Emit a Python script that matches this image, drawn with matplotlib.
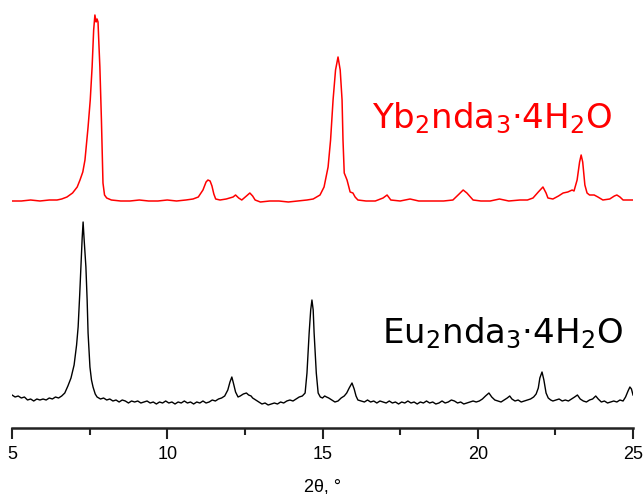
# plot.py
"""
Powder XRD patterns of Yb2nda3·4H2O and Eu2nda3·4H2O
"""

import matplotlib
matplotlib.use('Agg')
import matplotlib.pyplot as plt
from matplotlib.ticker import MultipleLocator

# 2θ (deg) and relative intensity
yb_2theta = [5.0, 5.3, 5.6, 5.9, 6.2, 6.45, 6.6, 6.77, 6.95, 7.1, 7.19, 7.28, 7.35, 7.45, 7.52,
             7.58, 7.63, 7.67, 7.71, 7.74, 7.77, 7.8, 7.83, 7.88, 7.93, 7.98, 8.05, 8.2, 8.5,
             8.8, 9.1, 9.4, 9.7, 10.0, 10.3, 10.6, 10.83, 11.0, 11.15, 11.25, 11.31, 11.38,
             11.44, 11.5, 11.56, 11.7, 11.9, 12.12, 12.2, 12.3, 12.4, 12.55, 12.66, 12.75,
             12.83, 13.0, 13.3, 13.6, 13.9, 14.2, 14.5, 14.7, 14.92, 15.05, 15.18, 15.26,
             15.34, 15.42, 15.5, 15.57, 15.63, 15.66, 15.7, 15.79, 15.89, 15.98, 16.05,
             16.14, 16.4, 16.7, 16.95, 17.08, 17.2, 17.5, 17.82, 18.1, 18.5, 18.9, 19.2,
             19.4, 19.53, 19.65, 19.85, 20.1, 20.4, 20.7, 21.0, 21.36, 21.6, 21.78, 21.95,
             22.1, 22.2, 22.26, 22.42, 22.6, 22.75, 22.9, 23.04, 23.1, 23.2, 23.28, 23.33,
             23.38, 23.45, 23.52, 23.6, 23.75, 23.87, 24.03, 24.25, 24.4, 24.48, 24.58,
             24.68, 24.85, 25.0]
yb_int = [0, 0, 1, 0, 1, 1, 2, 4, 8, 14, 21, 29, 41, 74, 101,
          134, 171, 186, 179, 182, 179, 156, 134, 81, 18, 6, 3, 1, 0,
          0, 1, 0, 0, 1, 0, 1, 2, 4, 11, 19, 21, 20,
          15, 7, 2, 1, 2, 4, 6, 3, 1, 5, 8, 5,
          1, -1, 0, 0, -1, 0, 1, 2, 6, 14, 34, 61,
          101, 131, 144, 131, 101, 61, 28, 21, 9, 8, 4,
          1, 0, 0, 3, 6, 1, 0, 2, 0, 0, 0, 1,
          7, 11, 8, 1, 0, 0, 2, 0, 1, 1, 3, 9,
          14, 8, 3, 2, 5, 8, 9, 11, 10, 21, 39, 46,
          39, 16, 8, 6, 6, 4, 1, 2, 5, 6, 4,
          1, 1, 1]

eu_2theta = [5.0, 5.1, 5.2, 5.3, 5.4, 5.5, 5.6, 5.7, 5.8, 5.9, 6.0, 6.1, 6.2, 6.3, 6.4, 6.5,
             6.6, 6.7, 6.8, 6.9, 7.0, 7.08, 7.13, 7.18, 7.22, 7.26, 7.29, 7.32, 7.38, 7.42,
             7.45, 7.51, 7.56, 7.61, 7.68, 7.74, 7.85, 7.95, 8.05, 8.15, 8.25, 8.35, 8.45,
             8.55, 8.65, 8.75, 8.85, 8.95, 9.05, 9.15, 9.25, 9.35, 9.45, 9.55, 9.65, 9.75,
             9.85, 9.95, 10.05, 10.15, 10.25, 10.35, 10.45, 10.55, 10.65, 10.75, 10.85,
             10.95, 11.05, 11.15, 11.25, 11.35, 11.45, 11.55, 11.65, 11.75, 11.85, 11.95,
             12.02, 12.08, 12.13, 12.2, 12.28, 12.35, 12.45, 12.55, 12.62, 12.7, 12.75,
             12.85, 12.95, 13.05, 13.15, 13.25, 13.35, 13.45, 13.55, 13.65, 13.75, 13.85,
             13.95, 14.05, 14.15, 14.25, 14.35, 14.44, 14.5, 14.57, 14.62, 14.66, 14.7,
             14.73, 14.8, 14.86, 14.93, 15.0, 15.07, 15.13, 15.2, 15.3, 15.4, 15.5, 15.6,
             15.7, 15.78, 15.86, 15.95, 16.02, 16.08, 16.14, 16.25, 16.35, 16.45, 16.55,
             16.65, 16.75, 16.85, 16.95, 17.05, 17.15, 17.25, 17.35, 17.45, 17.55, 17.65,
             17.75, 17.85, 17.95, 18.05, 18.15, 18.25, 18.35, 18.45, 18.55, 18.65, 18.75,
             18.85, 18.95, 19.05, 19.15, 19.25, 19.35, 19.45, 19.55, 19.65, 19.75, 19.85,
             19.95, 20.05, 20.15, 20.25, 20.36, 20.45, 20.55, 20.65, 20.75, 20.85, 20.95,
             21.03, 21.1, 21.2, 21.3, 21.4, 21.5, 21.6, 21.7, 21.8, 21.88, 21.95, 22.0,
             22.07, 22.13, 22.2, 22.27, 22.35, 22.42, 22.52, 22.62, 22.72, 22.82, 22.92,
             23.02, 23.12, 23.21, 23.3, 23.4, 23.5, 23.6, 23.7, 23.8, 23.88, 23.98, 24.08,
             24.18, 24.28, 24.38, 24.48, 24.58, 24.68, 24.76, 24.84, 24.9, 24.95, 25.0]
eu_int = [5, 3, 4, 2, 3, 0, 1, -1, 1, 0, 1, 0, 2, 1, 3, 2,
          4, 7, 14, 22, 35, 55, 73, 105, 133, 162, 178, 162, 133, 100,
          67, 33, 20, 13, 6, 3, 1, 2, 0, 1, -1, 0, -2,
          0, -1, -3, -1, -2, -1, -3, -2, -1, -3, -2, -4, -2,
          -3, -1, -3, -2, -4, -2, -3, -1, -3, -2, -4,
          -2, -3, -1, -3, -2, 0, -1, 1, 2, 4, 10,
          18, 23, 17, 8, 3, 4, 6, 7, 5, 4, 2,
          0, -2, -4, -3, -5, -4, -3, -4, -2, -3, -1,
          0, -1, 1, 3, 4, 7, 27, 67, 90, 100, 90,
          67, 27, 7, 3, 2, 4, 3, 2, 0, -2, -1, 2,
          4, 7, 12, 17, 11, 4, 0, -1, -2, 0, -2,
          -1, -3, -1, -2, -3, -1, -3, -2, -4, -2, -3,
          -1, -3, -2, -4, -2, -3, -1, -3, -2, -4, -3,
          -1, -3, -2, 0, -1, -3, -2, -4, -3, -2, -1,
          -2, -1, 1, 4, 7, 3, 0, -1, -2, 0, 2,
          4, 1, -1, 0, -2, -1, 0, 1, 3, 6, 12, 22,
          28, 20, 7, 2, 0, -1, 0, 1, -1, 0, -1,
          1, 3, 5, 1, -1, -2, 0, 1, 4, 1, -2, -1,
          -3, -2, -1, -2, 0, -1, 3, 9, 13, 11, 5]

yb_label = r'$\mathregular{Yb_2nda_3·4H_2O}$'
eu_label = r'$\mathregular{Eu_2nda_3·4H_2O}$'


def plot_xrd():
    fig = plt.figure(figsize=(6.43, 4.94), dpi=100)
    ax = fig.add_axes([12 / 643, 66 / 494, 621 / 643, 428 / 494])

    # stacked patterns
    ax.plot(yb_2theta, [v + 227 for v in yb_int], color='#ff0000', lw=1.1)
    ax.plot(eu_2theta, [v + 28 for v in eu_int], color='black', lw=1.0)

    ax.text(16.59, 300, yb_label, color='#ff0000', fontsize=24.5,
            family=['DejaVu Sans'], ha='left', va='baseline')
    ax.text(16.92, 85, eu_label, color='black', fontsize=24.5,
            family=['DejaVu Sans'], ha='left', va='baseline')

    ax.set_xlim(5, 25)
    ax.set_ylim(0, 428)
    for s in ['left', 'right', 'top']:
        ax.spines[s].set_visible(False)
    ax.spines['bottom'].set_linewidth(1.8)
    ax.spines['bottom'].set_color('#222222')
    ax.set_yticks([])
    ax.xaxis.set_major_locator(MultipleLocator(5))
    ax.xaxis.set_minor_locator(MultipleLocator(2.5))
    ax.tick_params(axis='x', which='major', length=8, width=1.5, direction='out',
                   labelsize=13, pad=5, color='#222222')
    ax.tick_params(axis='x', which='minor', length=5, width=1.5, direction='out',
                   color='#222222')
    for lab in ax.get_xticklabels():
        lab.set_family('Liberation Sans')
    ax.set_xlabel('2θ, °', fontsize=13, family='Liberation Sans', labelpad=11)

    fig.savefig('out.png', dpi=100)


if __name__ == "__main__":
    plot_xrd()
